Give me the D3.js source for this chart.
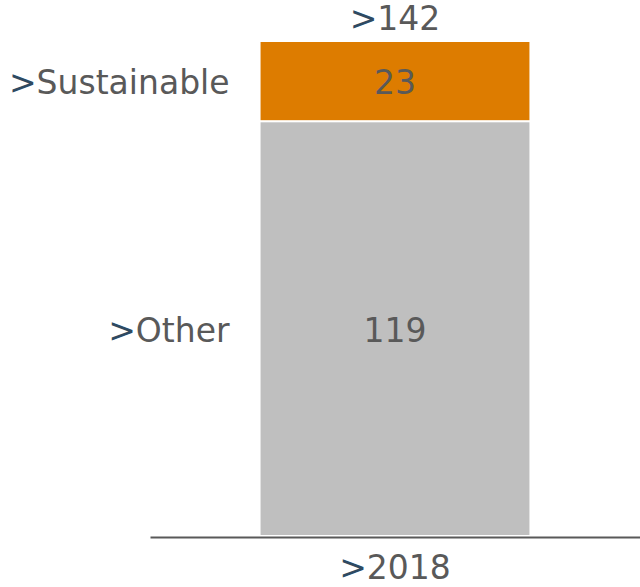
<!DOCTYPE html>
<html>
<head>
<meta charset="utf-8">
<script src="https://cdn.jsdelivr.net/npm/d3@7"></script>
<style>
  body { margin: 0; background: #fff; }
  text { font-family: "DejaVu Sans", Verdana, sans-serif; font-size: 33px; fill: #595959; }
  .mark { fill: #2e4a62; }
</style>
</head>
<body>
<div id="chart"></div>
<script>
// data
const years = ["2018"];
const seriesNames = ["Other", "Sustainable"];
const otherValues = [119];
const sustainableValues = [23];
const totals = [142];

const colors = d3.scaleOrdinal(seriesNames, ["#bfbfbf", "#dd7c00"]);

const width = 640, height = 587;
const svg = d3.select("#chart").append("svg")
  .attr("width", width)
  .attr("height", height);

// scales
const x = d3.scaleBand().domain(years).range([150, 640]).padding(0.288);
const y = d3.scaleLinear().domain([0, 142]).range([536, 41]);

// stack the two series
const table = years.map((yr, i) => ({ year: yr, Other: otherValues[i], Sustainable: sustainableValues[i] }));
const stacked = d3.stack().keys(seriesNames)(table);

const layer = svg.selectAll(".layer")
  .data(stacked)
  .enter().append("g")
  .attr("class", "layer");

layer.selectAll("rect")
  .data(d => d.map(p => ({ key: d.key, p: p })))
  .enter().append("rect")
  .attr("x", d => x(d.p.data.year))
  .attr("width", x.bandwidth())
  .attr("y", d => y(d.p[1]))
  .attr("height", d => y(d.p[0]) - y(d.p[1]))
  .attr("fill", d => colors(d.key))
  .attr("stroke", "#fff")
  .attr("stroke-width", 2);

// values inside segments
layer.selectAll(".val")
  .data(d => d.map(p => ({ key: d.key, p: p })))
  .enter().append("text")
  .attr("class", "val")
  .attr("x", d => x(d.p.data.year) + x.bandwidth() / 2)
  .attr("y", d => (y(d.p[0]) + y(d.p[1])) / 2 + 13)
  .attr("text-anchor", "middle")
  .text(d => d.p[1] - d.p[0]);

// series labels on the left
function prefixed(sel, label) {
  sel.append("tspan").attr("class", "mark").text(">");
  sel.append("tspan").text(label);
}
stacked.forEach(s => {
  const p = s[0];
  svg.append("text")
    .attr("x", x(years[0]) - 30)
    .attr("y", (y(p[0]) + y(p[1])) / 2 + 13)
    .attr("text-anchor", "end")
    .call(prefixed, s.key);
});

// totals above the bar
years.forEach((yr, i) => {
  svg.append("text")
    .attr("x", x(yr) + x.bandwidth() / 2)
    .attr("y", y(totals[i]) - 11)
    .attr("text-anchor", "middle")
    .call(prefixed, totals[i]);
});

// x axis
const xAxis = d3.axisBottom(x).tickSize(0).tickPadding(0).tickFormat(() => "");
const gx = svg.append("g")
  .attr("transform", "translate(0," + 537 + ")")
  .call(xAxis);
gx.select(".domain").attr("stroke", "#595959").attr("stroke-width", 2);
gx.selectAll(".tick").append("text")
  .attr("y", 42)
  .attr("text-anchor", "middle")
  .call(function(t) {
    t.append("tspan").attr("class", "mark").text(">");
    t.append("tspan").text(d => d);
  });
</script>
</body>
</html>
